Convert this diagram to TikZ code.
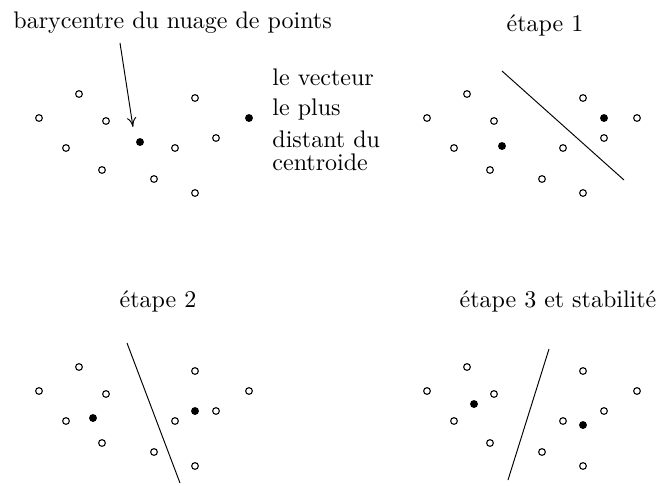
\documentclass[tikz,border=0pt]{standalone}
\usepackage{tikz}
\usetikzlibrary{arrows.meta,positioning}

\tikzset{
  vide/.style={draw,fill=white,line width=0.45pt},
  plein/.style={fill=black},
  legende/.style={inner sep=0pt,anchor=base west},
}

\begin{document}
\begin{tikzpicture}[x=0.4167pt,y=-0.4167pt]
  \useasboundingbox (0,0) rectangle (662,485);

  % le meme nuage dans les quatre cadres
  \foreach \dx/\dy in {0/0,388/0,0/273,388/273}{
    \foreach \px/\py in {39/118,79/94,106/121,66/148,102/170,154/179,
                         175/148,195/98,216/138,195/193}
      \draw[vide] (\px+\dx,\py+\dy) circle (1.4pt);
  }
  \foreach \dx/\dy in {388/0,0/273,388/273}
    \draw[vide] (249+\dx,118+\dy) circle (1.4pt);

  % barycentre
  \node[legende] (titreA) at (13,28) {barycentre du nuage de points};
  \coordinate (GA) at (140,142);
  \coordinate (VA) at (249,118);
  \coordinate (depart) at (120,43);
  \coordinate (pointe) at (133,127);
  \draw[-{To[length=4pt,width=4pt]}] (depart) -- (pointe);
  \fill[plein] (GA) circle (1.65pt);
  \fill[plein] (VA) circle (1.65pt);
  \node[legende] (texteA) at (272,85) {le vecteur};
  \node[legende] (texteB) at (272,115) {le plus};
  \node[legende] (texteC) at (272,147) {distant du};
  \node[legende] (texteD) at (272,170) {centroide};

  % etape 1
  \node[inner sep=0pt,anchor=base] (titreB) at (545,31) {étape 1};
  \coordinate (GB1) at (502,146);
  \coordinate (GB2) at (604,118);
  \coordinate (LB1) at (502,71);
  \coordinate (LB2) at (624,180);
  \draw (LB1) -- (LB2);
  \fill[plein] (GB1) circle (1.65pt);
  \fill[plein] (GB2) circle (1.65pt);

  % etape 2
  \node[inner sep=0pt,anchor=base] (titreC) at (158,307) {étape 2};
  \coordinate (GC1) at (93,418);
  \coordinate (GC2) at (195,411);
  \coordinate (LC1) at (127,343);
  \coordinate (LC2) at (180,483);
  \draw (LC1) -- (LC2);
  \fill[plein] (GC1) circle (1.65pt);
  \fill[plein] (GC2) circle (1.65pt);

  % etape 3
  \node[inner sep=0pt,anchor=base] (titreD) at (558,307) {étape 3 et stabilité};
  \coordinate (GD1) at (474,404);
  \coordinate (GD2) at (583,425);
  \coordinate (LD1) at (549,349);
  \coordinate (LD2) at (508,480);
  \draw (LD1) -- (LD2);
  \fill[plein] (GD1) circle (1.65pt);
  \fill[plein] (GD2) circle (1.65pt);
\end{tikzpicture}
\end{document}
